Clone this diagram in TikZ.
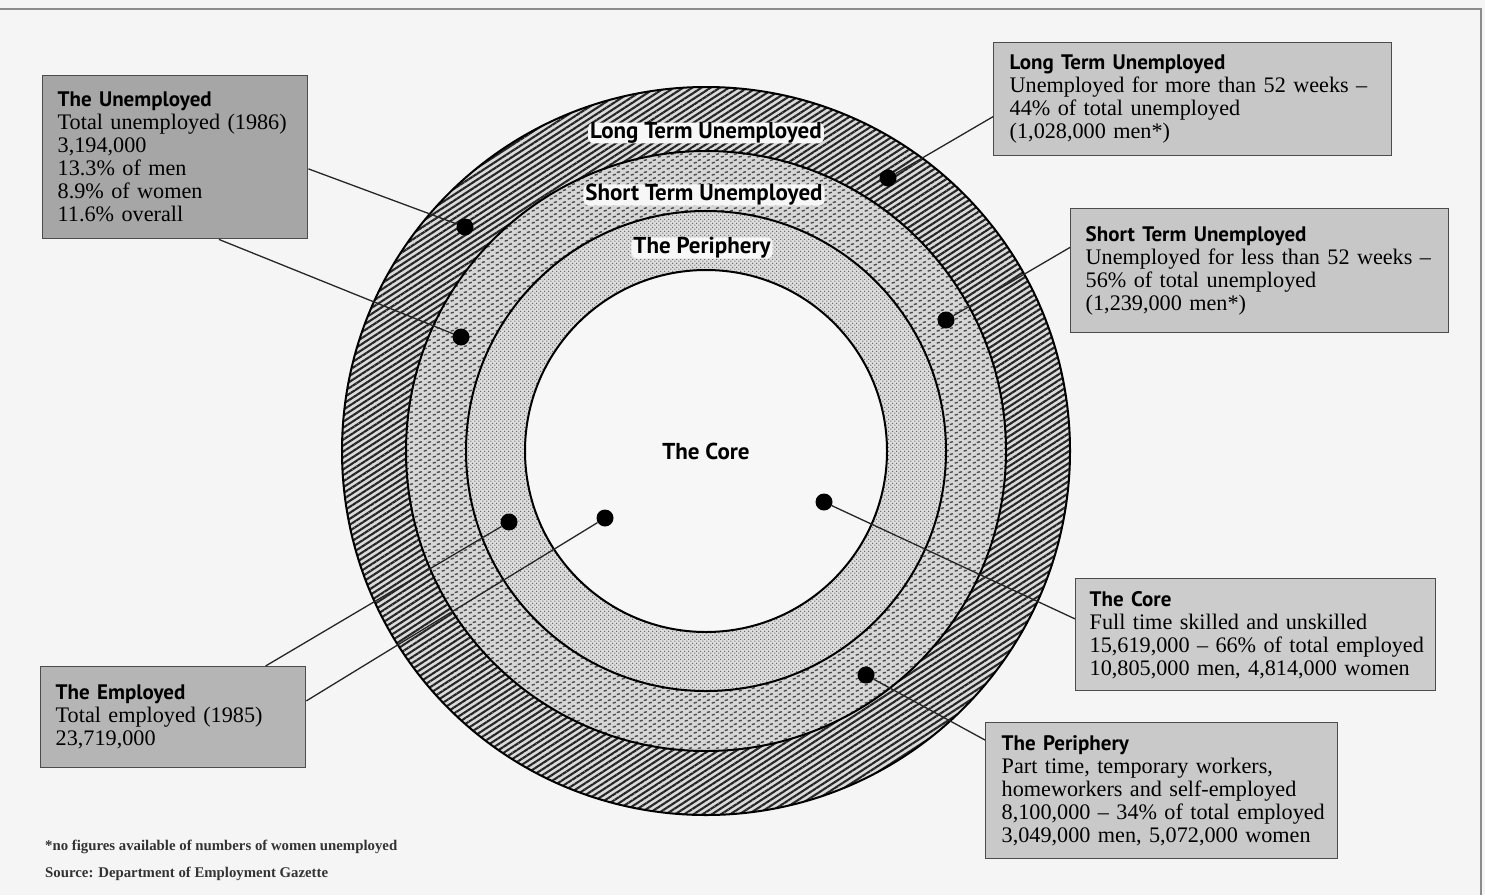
\documentclass[tikz,border=0pt]{standalone}
\usepackage{fontspec}
\setmainfont{Liberation Serif}
\newfontfamily\headfont{PT Sans}
\usetikzlibrary{patterns,patterns.meta}

% fill patterns of the three rings
\tikzdeclarepattern{
  name=stdash,
  type=uncolored,
  bounding box={(0pt,0pt) and (9pt,6pt)},
  tile size={(9pt,6pt)},
  code={
    \draw[line width=1.6pt] (0.8pt,1.0pt) -- (4.2pt,2.0pt);
    \draw[line width=1.6pt] (5.3pt,4.0pt) -- (8.7pt,5.0pt);
  }
}
\tikzdeclarepattern{
  name=stipple,
  type=uncolored,
  bounding box={(0pt,0pt) and (4.2pt,4.2pt)},
  tile size={(4.2pt,4.2pt)},
  code={
    \fill (1.05pt,1.05pt) circle (0.85pt);
    \fill (3.15pt,3.15pt) circle (0.85pt);
  }
}

\begin{document}
\begin{tikzpicture}[x=1pt,y=-1pt,
    box/.style={draw=black!70, line width=1.4pt, anchor=north west, inner sep=0pt,
      align=left, font=\fontsize{22.2}{23}\selectfont},
    dot/.style={circle, fill=black, inner sep=0pt, minimum size=17pt},
    lead/.style={line width=1.3pt, black!85},
    ringtext/.style={font=\headfont\bfseries\fontsize{23}{24}\selectfont, fill=black!3,
      rounded corners=5pt, inner xsep=2pt, inner ysep=0pt},
    ring/.style={line width=2pt},
    note/.style={anchor=west, inner sep=0pt, font=\bfseries\fontsize{14.8}{15}\selectfont, black!80}]
  \newcommand\hd[1]{{\headfont\bfseries\fontsize{21}{23}\selectfont #1}}
  \useasboundingbox (0,0) rectangle (1485,895);
  \fill[black!4] (0,0) rectangle (1485,895);
  \draw[black!45, line width=1.5pt] (0,9) -- (1481,9) -- (1481,895);

  % rings
  \coordinate (ctr) at (706,451);
  \fill[black!14] (ctr) circle (364);
  \path[pattern={Lines[angle=33,distance=5pt,line width=2.1pt]}, pattern color=black!85,
    even odd rule] (ctr) circle (364) (ctr) circle (300);
  \fill[black!16] (ctr) circle (300);
  \path[pattern=stdash, pattern color=black!70] (ctr) circle (300);
  \fill[black!13] (ctr) circle (240);
  \path[pattern=stipple, pattern color=black!62] (ctr) circle (240);
  \fill[black!3] (ctr) circle (181);
  \draw[ring] (ctr) circle (364) (ctr) circle (300) (ctr) circle (240) (ctr) circle (181);

  \node[ringtext] (lLong) at (706,133) {Long Term Unemployed};
  \node[ringtext] (lShort) at (704,195) {Short Term Unemployed};
  \node[ringtext] (lPeri) at (702,248) {The Periphery};
  \node[ringtext, fill=none] (lCore) at (706,451) {The Core};

  % boxes
  \node[box, fill=black!35, minimum width=265, minimum height=163, text width=235] (bUnemp) at (42,75)
    {\hd{The Unemployed}\\\mbox{Total unemployed (1986)}\\3,194,000\\13.3\% of men\\8.9\% of women\\11.6\% overall};
  \node[box, fill=black!22, minimum width=398, minimum height=113, text width=366] (bLong) at (993,42)
    {\hd{Long Term Unemployed}\\\mbox{Unemployed for more than 52 weeks --}\\44\% of total unemployed\\(1,028,000 men*)};
  \node[box, fill=black!22, minimum width=378, minimum height=124, text width=348] (bShort) at (1070,208)
    {\hd{Short Term Unemployed}\\\mbox{Unemployed for less than 52 weeks --}\\56\% of total unemployed\\(1,239,000 men*)};
  \node[box, fill=black!20, minimum width=360, minimum height=112, text width=332] (bCore) at (1075,578)
    {\hd{The Core}\\Full time skilled and unskilled\\\mbox{15,619,000 -- 66\% of total employed}\\\mbox{10,805,000 men, 4,814,000 women}};
  \node[box, fill=black!21, minimum width=352, minimum height=136, text width=320] (bPeri) at (985,722)
    {\hd{The Periphery}\\Part time, temporary workers,\\\mbox{homeworkers and self-employed}\\\mbox{8,100,000 -- 34\% of total employed}\\\mbox{3,049,000 men, 5,072,000 women}};
  \node[box, fill=black!29, minimum width=265, minimum height=101, text width=235] (bEmp) at (40,666)
    {\hd{The Employed}\\Total employed (1985)\\23,719,000};

  % dots
  \node[dot] (dU1) at (465,227) {};
  \node[dot] (dU2) at (461,337) {};
  \node[dot] (dLong) at (888,178) {};
  \node[dot] (dShort) at (946,320) {};
  \node[dot] (dCore) at (824,502) {};
  \node[dot] (dPeri) at (866,675) {};
  \node[dot] (dE1) at (509,522) {};
  \node[dot] (dE2) at (605,518) {};

  % leader lines
  \draw[lead] (bUnemp.355) -- (dU1);
  \draw[lead] (bUnemp.298) -- (dU2);
  \draw[lead] (bLong.185) -- (dLong);
  \draw[lead] (bShort.173) -- (dShort);
  \draw[lead] (bCore.175) -- (dCore);
  \draw[lead] (bPeri.164) -- (dPeri);
  \draw[lead] (bEmp.29) -- (dE1);
  \draw[lead] (bEmp.7) -- (dE2);

  % footnotes
  \node[note] (nFig) at (45,847) {*no figures available of numbers of women unemployed};
  \node[note] (nSrc) at (45,874) {Source: Department of Employment Gazette};
\end{tikzpicture}
\end{document}
